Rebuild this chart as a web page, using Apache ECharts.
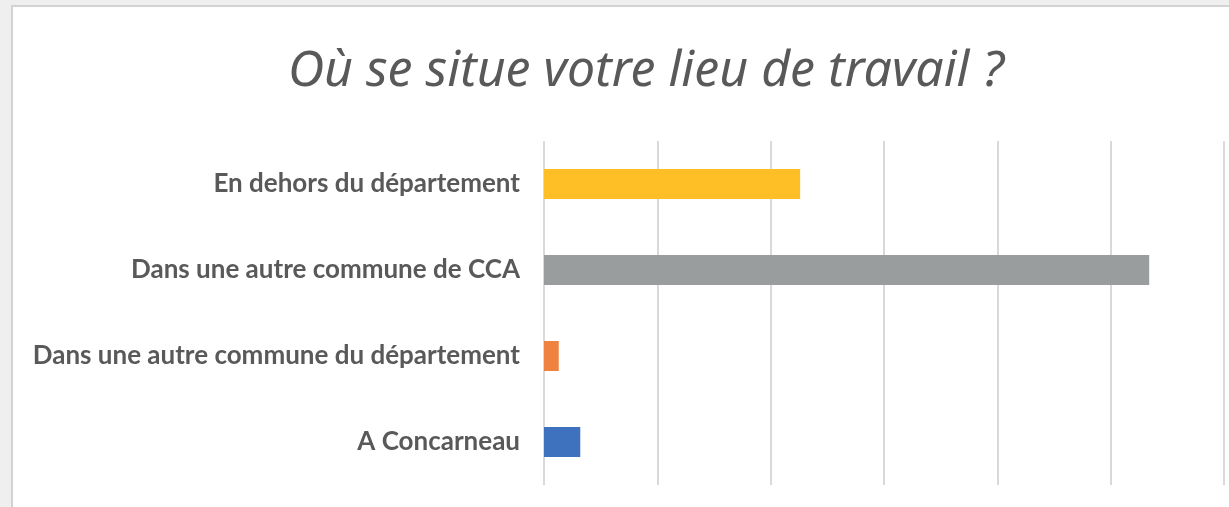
<!DOCTYPE html>
<html>
<head>
<meta charset="utf-8">
<script src="https://cdn.jsdelivr.net/npm/echarts@6/dist/echarts.min.js"></script>
<style>
  html, body { margin: 0; padding: 0; background: #efefef; }
  #chart { width: 1229px; height: 507px; }
</style>
</head>
<body>
<div id="chart"></div>
<script>
// lieu de travail, top to bottom
const categories = [
  'En dehors du département',
  'Dans une autre commune de CCA',
  'Dans une autre commune du département',
  'A Concarneau'
]
const values = [22.6, 53.4, 1.3, 3.2]
const barColors = ['#FDBE26', '#9A9D9D', '#EE823E', '#3F72BE']

const chart = echarts.init(document.getElementById('chart'))

chart.setOption({
  backgroundColor: '#efefef',
  animation: false,
  graphic: [
    {
      type: 'rect',
      left: 11,
      top: 5,
      shape: { width: 1300, height: 600 },
      style: { fill: '#ffffff', stroke: '#d2d2d2', lineWidth: 2 },
      z: -10
    }
  ],
  title: {
    text: 'Où se situe votre lieu de travail ?',
    left: 641,
    top: 42,
    textAlign: 'center',
    textStyle: {
      fontFamily: 'Noto Sans',
      fontStyle: 'italic',
      fontWeight: 'normal',
      fontSize: 50,
      color: '#595959'
    }
  },
  grid: {
    left: 544,
    right: 5,
    top: 141,
    bottom: 22,
    containLabel: false
  },
  xAxis: {
    type: 'value',
    min: 0,
    max: 60,
    interval: 10,
    axisLabel: { show: false },
    axisLine: { show: false },
    axisTick: { show: false },
    splitLine: { show: true, lineStyle: { color: '#d9d9d9', width: 2 } }
  },
  yAxis: {
    type: 'category',
    data: categories,
    inverse: true,
    axisLine: { show: false },
    axisTick: { show: false },
    splitLine: { show: false },
    axisLabel: {
      margin: 24,
      color: '#595959',
      fontFamily: 'Lato',
      fontWeight: 'bold',
      fontSize: 26
    }
  },
  series: [
    {
      type: 'bar',
      barWidth: 30,
      data: values.map((v, i) => ({ value: v, itemStyle: { color: barColors[i] } }))
    }
  ]
})
</script>
</body>
</html>
